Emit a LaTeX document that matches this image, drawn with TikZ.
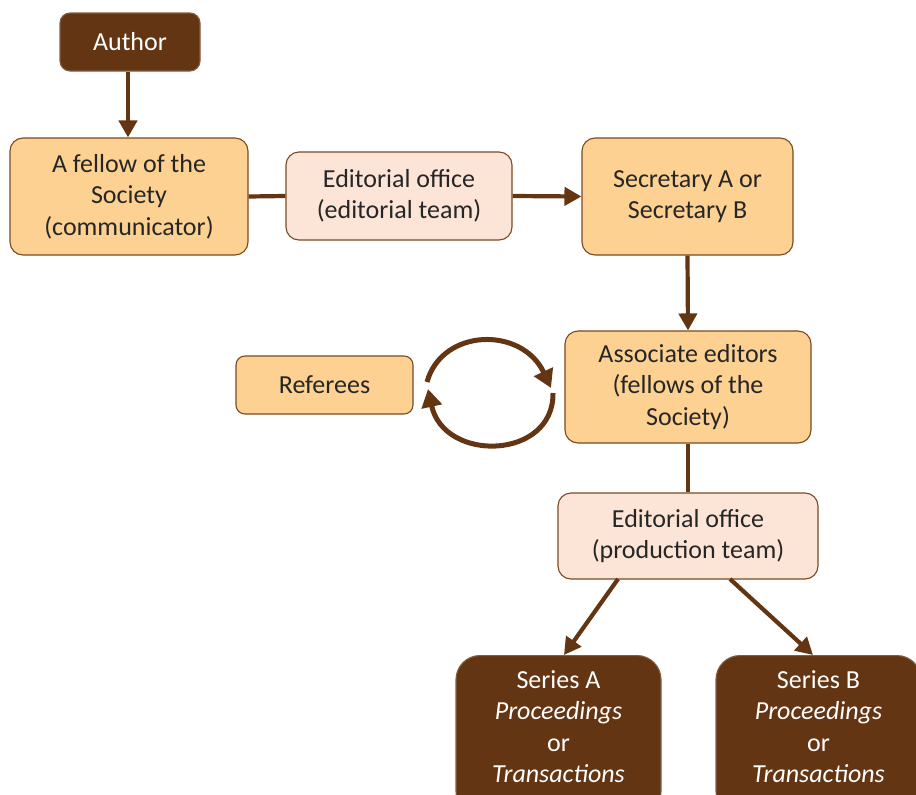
\documentclass[tikz,border=0pt]{standalone}
\usepackage{fontspec}
\setmainfont{Carlito}
\usetikzlibrary{arrows.meta}
\definecolor{darkbrown}{HTML}{643512}
\definecolor{edgebrown}{HTML}{7A4A22}
\definecolor{paleorange}{HTML}{FCD192}
\definecolor{palepink}{HTML}{FCE4D7}
\definecolor{linkbrown}{HTML}{643512}
\tikzset{
  boxfont/.style={font=\fontsize{26}{31.5}\selectfont},
  box/.style={rounded corners=13pt, draw=edgebrown, line width=1.1pt, align=center,
    boxfont, text=black!85, inner sep=0pt},
  orangebox/.style={box, fill=paleorange},
  pinkbox/.style={box, fill=palepink},
  darkbox/.style={box, fill=darkbrown, draw=darkbrown!80!white, text=white},
  link/.style={draw=linkbrown, line width=4.2pt},
  arrowlink/.style={link, -{Triangle[width=18pt,length=17pt]}},
  looplink/.style={link, line width=5pt, -{Triangle[width=20pt,length=18pt]}},
}
\begin{document}
\begin{tikzpicture}[x=1pt, y=-1pt]
\useasboundingbox (0,0) rectangle (916,795);
\clip (0,0) rectangle (916,795);
\fill[white] (0,0) rectangle (916,795);

% boxes
\node[darkbox, minimum width=140pt, minimum height=58pt, rounded corners=10pt] (author) at (130,42) {Author};
\node[orangebox, minimum width=238pt, minimum height=117pt] (fellow) at (129,196.5) {A fellow of the\\Society\\(communicator)};
\node[pinkbox, minimum width=226pt, minimum height=88pt] (edoff) at (399,196) {Editorial office\\(editorial team)};
\node[orangebox, minimum width=211pt, minimum height=117pt] (secr) at (687.5,196.5) {Secretary A or\\Secretary B};
\node[orangebox, minimum width=246pt, minimum height=112pt] (assoc) at (688,387) {Associate editors\\(fellows of the\\Society)};
\node[orangebox, minimum width=177pt, minimum height=58pt, rounded corners=9pt] (ref) at (324.5,385) {Referees};
\node[pinkbox, minimum width=260pt, minimum height=86pt] (prod) at (688,536) {Editorial office\\(production team)};
\node[darkbox, minimum width=205pt, minimum height=160pt, rounded corners=24pt, anchor=north] (serA) at (558.5,655) {};
\node[darkbox, minimum width=205pt, minimum height=160pt, rounded corners=24pt, anchor=north] (serB) at (818.5,655) {};
\node[boxfont, text=white, align=center, anchor=north, inner sep=0pt] (serAtxt) at (558.5,670)
  {Series A\\\textit{Proceedings}\\or\\\textit{Transactions}};
\node[boxfont, text=white, align=center, anchor=north, inner sep=0pt] (serBtxt) at (818.5,670)
  {Series B\\\textit{Proceedings}\\or\\\textit{Transactions}};

% connectors
\draw[arrowlink] (author.south -| 128,0) -- (fellow.north -| 128,0);
\draw[link] (fellow.east) -- (edoff.west);
\draw[arrowlink] (edoff.east) -- (secr.west);
\draw[arrowlink] (secr.south) -- (assoc.north);
\draw[link] (assoc.south) -- (prod.south |- prod.north);
\coordinate (pa) at (618,579);
\coordinate (pb) at (730,579);
\coordinate (ta) at (564,655);
\coordinate (tb) at (813,655);
\draw[arrowlink] (pa) -- (ta);
\draw[arrowlink] (pb) -- (tb);

% exchange loop between referees and associate editors
\coordinate (loopA) at (427,382);
\coordinate (loopB) at (551,388);
\coordinate (loopC) at (553,393);
\coordinate (loopD) at (428,389);
\draw[looplink] (loopA) .. controls (442,328) and (522,326) .. (loopB);
\draw[looplink] (loopC) .. controls (554,460) and (444,463) .. (loopD);
\end{tikzpicture}
\end{document}
